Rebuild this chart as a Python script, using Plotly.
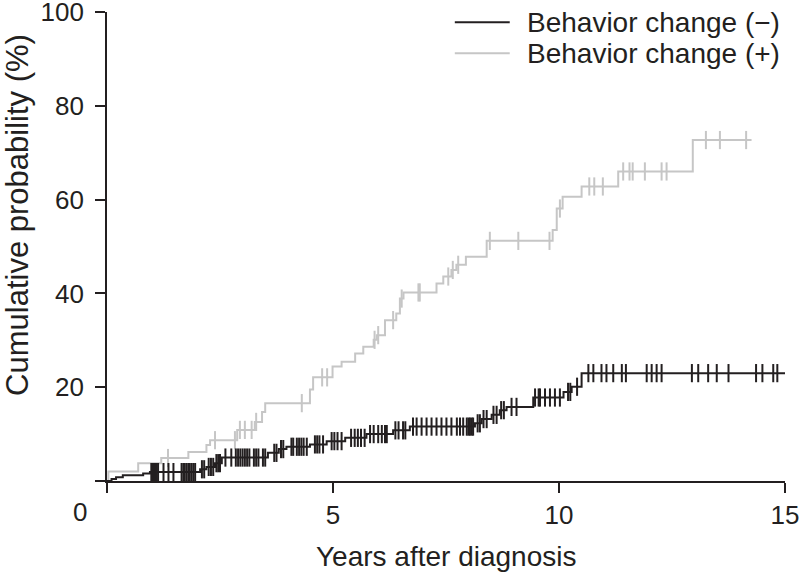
import numpy as np
import plotly.graph_objects as go

# ---- data ----
# Behavior change (-): event times (years) and cumulative probability (%)
neg_time = [0, 0.1, 0.2, 0.35, 0.8, 0.95, 2.06, 2.2, 2.39, 2.54, 3.56, 3.8, 3.97, 4.49,
            4.86, 5.27, 5.74, 6.33, 6.7, 8.14, 8.29, 8.51, 8.69, 8.84, 9.43, 10.1,
            10.28, 10.5, 15.0]
neg_pct = [0, 0.4, 0.8, 1.2, 1.6, 1.9, 2.5, 3.0, 3.8, 5.0, 6.0, 6.8, 7.3, 7.8,
           8.5, 9.2, 10.0, 10.8, 11.6, 12.3, 13.2, 14.1, 15.1, 15.8, 17.8, 19.0,
           20.1, 23.0, 23.0]
neg_censor = [0.98, 1.0, 1.02, 1.05, 1.08, 1.1, 1.13, 1.25, 1.36, 1.47, 1.65, 1.69, 1.72,
              1.76, 1.8, 1.83, 1.87, 1.91, 1.95, 2.1, 2.15, 2.25, 2.3, 2.35, 2.42, 2.46,
              2.5, 2.62, 2.75, 2.85, 2.9, 2.95, 3.0, 3.05, 3.1, 3.15, 3.25, 3.3, 3.35,
              3.45, 3.5, 3.7, 3.75, 3.85, 3.9, 4.08, 4.12, 4.2, 4.25, 4.3, 4.35, 4.42,
              4.6, 4.65, 4.7, 4.78, 4.97, 5.03, 5.1, 5.19, 5.4, 5.48, 5.55, 5.62, 5.7,
              5.82, 5.9, 6.0, 6.08, 6.15, 6.19, 6.38, 6.45, 6.55, 6.6, 6.77, 6.85, 6.96,
              7.07, 7.18, 7.29, 7.4, 7.51, 7.62, 7.74, 7.81, 7.88, 7.96, 8.0, 8.03,
              8.07, 8.1, 8.2, 8.25, 8.33, 8.4, 8.55, 8.62, 8.72, 8.78, 8.95, 9.06,
              9.47, 9.55, 9.58, 9.69, 9.8, 9.91, 10.02, 10.2, 10.25, 10.4, 10.65,
              10.76, 10.94, 11.05, 11.2, 11.39, 11.48, 11.94, 12.05, 12.16, 12.27,
              12.94, 13.08, 13.3, 13.49, 13.75, 14.36, 14.5, 14.74, 14.83]

# Behavior change (+)
pos_time = [0, 0.03, 0.69, 1.2, 1.8, 2.2, 2.28, 2.88, 3.27, 3.43, 3.5, 4.49, 4.56, 4.99,
            5.19, 5.49, 5.67, 5.9, 5.97, 6.15, 6.4, 6.48, 6.56, 7.29, 7.44, 7.62, 7.73,
            7.94, 8.4, 9.86, 9.95, 10.08, 10.5, 11.31, 12.96, 14.26]
pos_pct = [0, 2.0, 3.8, 4.9, 6.2, 7.7, 8.7, 10.9, 12.6, 14.7, 16.6, 19.5, 22.1, 24.4,
           25.4, 27.2, 28.6, 30.1, 31.1, 34.3, 35.7, 38.9, 40.2, 42.1, 43.6, 45.0, 46.1,
           47.8, 51.2, 53.5, 58.1, 60.6, 62.8, 66.0, 72.7, 72.7]
pos_censor = [1.35, 2.39, 2.83, 2.94, 3.05, 3.2, 3.3, 4.31, 4.76, 4.87, 5.92, 6.0, 6.33,
              6.52, 6.89, 6.92, 7.55, 7.65, 7.77, 8.47, 9.1, 9.79, 10.02, 10.67, 10.78,
              10.97, 11.42, 11.56, 11.63, 11.9, 12.27, 12.38, 13.25, 13.56, 14.14]

x_ticks = [0, 5, 10, 15]
x_ticklabels = ["", "5", "10", "15"]
y_ticks = [0, 20, 40, 60, 80, 100]
y_ticklabels = ["", "20", "40", "60", "80", "100"]

series_names = ["Behavior change (\u2212)", "Behavior change (+)"]
x_title = "Years after diagnosis"
y_title = "Cumulative probability (%)"

BLACK = "#231f20"
GRAY = "#c6c6c6"
FONT = "Liberation Sans, Arial, sans-serif"
FS_TICK = 26
FS_TEXT = 28
FS_YTITLE = 31


def step_value(times, pcts, t):
    i = np.searchsorted(np.array(times), t, side="right") - 1
    return pcts[max(i, 0)]


fig = go.Figure()
for times, pcts, cens, color in [(pos_time, pos_pct, pos_censor, GRAY),
                                 (neg_time, neg_pct, neg_censor, BLACK)]:
    fig.add_trace(go.Scatter(x=times, y=pcts, mode="lines", line_shape="hv",
                             line=dict(color=color, width=2), showlegend=False,
                             hoverinfo="skip", cliponaxis=False))
    fig.add_trace(go.Scatter(x=cens, y=[step_value(times, pcts, c) for c in cens],
                             mode="markers",
                             marker=dict(symbol="line-ns", size=13,
                                         line=dict(color=color, width=2)),
                             showlegend=False, hoverinfo="skip", cliponaxis=False))

# manual legend (top right)
for i, (name, color) in enumerate(zip(series_names, [BLACK, GRAY])):
    yy = 0.978 - i * 0.066
    fig.add_shape(type="line", xref="paper", yref="paper", x0=0.513, x1=0.594,
                  y0=yy, y1=yy, line=dict(color=color, width=2))
    fig.add_annotation(xref="paper", yref="paper", x=0.616, y=yy, text=name,
                       showarrow=False, xanchor="left", yanchor="middle",
                       font=dict(family=FONT, size=FS_TEXT, color=BLACK))

# axis titles and corner zero
fig.add_annotation(xref="paper", yref="paper", x=0.5, y=-0.162, text=x_title,
                   showarrow=False, xanchor="center", yanchor="middle",
                   font=dict(family=FONT, size=FS_TEXT, color=BLACK))
fig.add_annotation(xref="paper", yref="paper", x=-0.133, y=0.567,
                   text=y_title, textangle=-90,
                   showarrow=False, xanchor="center", yanchor="middle",
                   font=dict(family=FONT, size=FS_YTITLE, color=BLACK))
fig.add_annotation(xref="paper", yref="paper", x=-0.04, y=-0.066, text="0",
                   showarrow=False, xanchor="center", yanchor="middle",
                   font=dict(family=FONT, size=FS_TICK, color=BLACK))

axis_common = dict(showgrid=False, zeroline=False, showline=True, linecolor=BLACK,
                   linewidth=1.8, ticks="outside", tickcolor=BLACK, tickwidth=1.8,
                   ticklen=10, ticklabeloverflow="allow",
                   tickfont=dict(family=FONT, size=FS_TICK, color=BLACK))
fig.update_xaxes(range=[0, 15], tickvals=x_ticks, ticktext=x_ticklabels, **axis_common)
fig.update_yaxes(range=[0, 100], tickvals=y_ticks, ticktext=y_ticklabels,
                 ticklabelstandoff=6, **axis_common)

fig.update_layout(width=800, height=573, plot_bgcolor="white", paper_bgcolor="white",
                  margin=dict(l=107, r=15, t=12, b=92, autoexpand=False),
                  showlegend=False)

# the page's default 8px body margin would shift the chart; remove it
fig.write_html("out.html", config={"displayModeBar": False},
               post_script="document.body.style.margin='0';")
